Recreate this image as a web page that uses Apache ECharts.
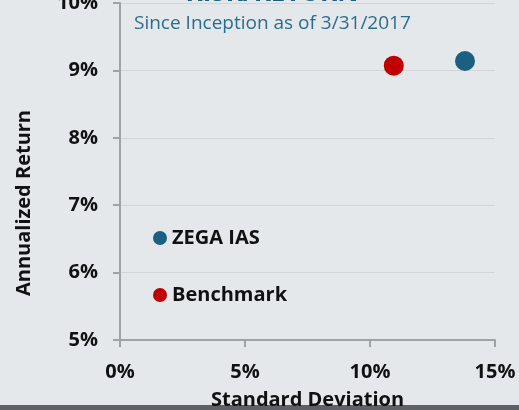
<!DOCTYPE html>
<html>
<head>
<meta charset="utf-8">
<script src="https://cdn.jsdelivr.net/npm/echarts@6/dist/echarts.min.js"></script>
<style>
  html, body { margin: 0; padding: 0; background: #e5e8eb; }
  #chart { width: 519px; height: 410px; }
</style>
</head>
<body>
<div id="chart"></div>
<script>
// 数据
var seriesNames = ['ZEGA IAS', 'Benchmark'];
var seriesColors = ['#1b6080', '#c00000'];
var stdDev = [13.8, 10.95];      // x: 标准差 %
var annReturn = [9.14, 9.07];    // y: 年化收益 %
var xTicks = [0, 5, 10, 15];
var yTicks = [5, 6, 7, 8, 9, 10];

var font = 'Open Sans';
var chart = echarts.init(document.getElementById('chart'), null, { renderer: 'canvas' });

var series = [];
for (var i = 0; i < seriesNames.length; i++) {
  series.push({
    name: seriesNames[i],
    type: 'scatter',
    symbolSize: 20,
    itemStyle: { color: seriesColors[i], opacity: 1 },
    data: [[stdDev[i], annReturn[i]]]
  });
}

var option = {
  backgroundColor: '#e5e8eb',
  animation: false,
  textStyle: { fontFamily: font },
  graphic: [
    {
      type: 'text', x: 272, y: 7, z: 10,
      style: { text: 'RISK/RETURN', font: 'bold 26px ' + font, fill: '#1b6080',
               align: 'center', verticalAlign: 'bottom' }
    },
    {
      type: 'text', x: 134, y: 24,
      style: { text: 'Since Inception as of 3/31/2017', font: '19px ' + font, fill: '#2b6c8c',
               align: 'left', verticalAlign: 'middle' }
    },
    {
      type: 'text', x: 24, y: 203, rotation: Math.PI / 2,
      style: { text: 'Annualized Return', font: 'bold 20px ' + font, fill: '#111',
               align: 'center', verticalAlign: 'middle' }
    },
    {
      type: 'rect', left: 0, top: 405, shape: { width: 519, height: 5 },
      style: { fill: '#5b6167' }
    }
  ],
  legend: {
    left: 148, top: 223, orient: 'vertical',
    icon: 'circle', itemWidth: 14, itemHeight: 14, itemGap: 37,
    textStyle: { fontFamily: font, fontWeight: 'bold', fontSize: 20, lineHeight: 20, color: '#111' },
    data: seriesNames
  },
  grid: { left: 120, right: 24, top: 3, bottom: 70, containLabel: false, outerBoundsMode: 'none' },
  xAxis: {
    type: 'value', min: xTicks[0], max: xTicks[xTicks.length - 1], interval: 5,
    name: 'Standard Deviation', nameLocation: 'middle', nameGap: 50,
    nameTextStyle: { fontFamily: font, fontWeight: 'bold', fontSize: 20, color: '#111' },
    axisLine: { show: true, lineStyle: { color: '#a0a3a6', width: 2 } },
    axisTick: { show: true, length: 7, lineStyle: { color: '#a0a3a6', width: 2 } },
    axisLabel: { formatter: '{value}%', margin: 22, fontFamily: font, fontWeight: 'bold', fontSize: 20, color: '#111' },
    splitLine: { show: false }
  },
  yAxis: {
    type: 'value', min: yTicks[0], max: yTicks[yTicks.length - 1], interval: 1,
    axisLine: { show: true, lineStyle: { color: '#a0a3a6', width: 2 } },
    axisTick: { show: true, length: 7, lineStyle: { color: '#a0a3a6', width: 2 } },
    axisLabel: { formatter: '{value}%', margin: 22, fontFamily: font, fontWeight: 'bold', fontSize: 20, color: '#111' },
    splitLine: { show: true, lineStyle: { color: '#d3d6d9', width: 1 } }
  },
  series: series
};

chart.setOption(option);
</script>
</body>
</html>
